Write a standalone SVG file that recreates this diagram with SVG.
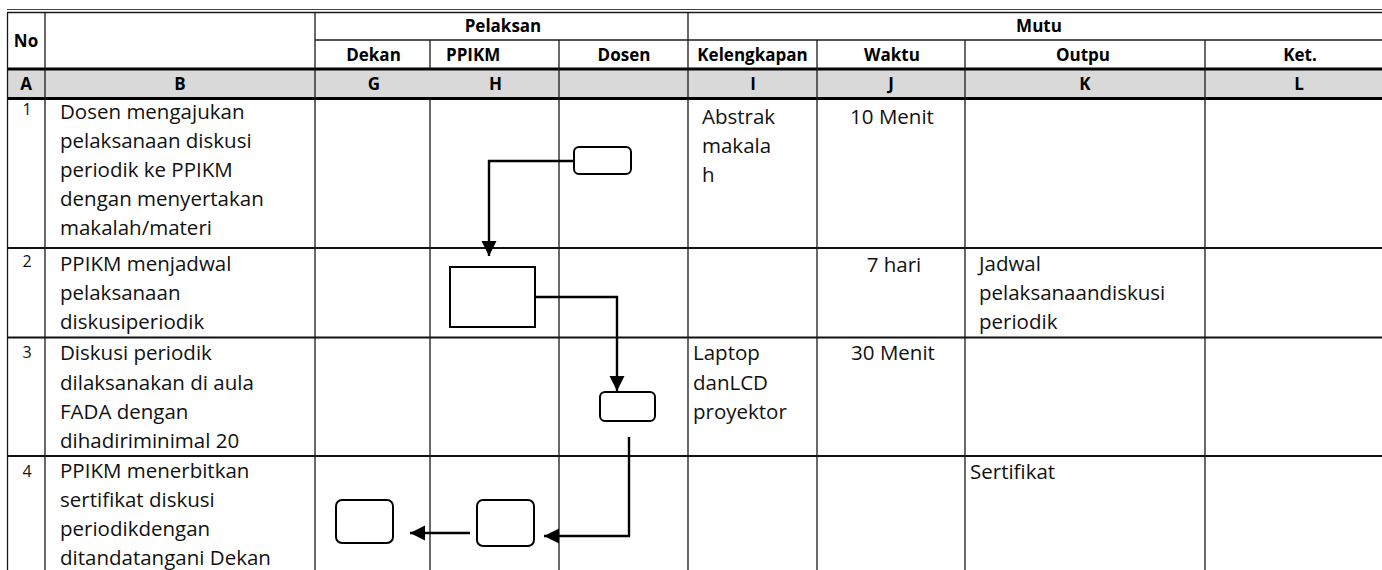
<svg xmlns="http://www.w3.org/2000/svg" width="1382" height="570" viewBox="0 0 1382 570">
<style>
.grid{stroke:#1a1a1a;stroke-width:1.3;fill:none}
.thick{stroke:#000;stroke-width:3;fill:none}
.rowl{stroke:#111;stroke-width:1.8;fill:none}
.hd{font-family:"Open Sans","Noto Sans",sans-serif;font-weight:bold;font-size:17px;fill:#000}
.tx{font-family:"Open Sans","Noto Sans",sans-serif;font-size:20.5px;fill:#111}
.num{font-family:"Open Sans","Noto Sans",sans-serif;font-size:16px;fill:#111}
.mid{text-anchor:middle}
.box{fill:#fff;stroke:#000;stroke-width:2}
.conn{fill:none;stroke:#000;stroke-width:2.4}
</style>
<defs>
<marker id="ah" markerUnits="userSpaceOnUse" markerWidth="16" markerHeight="16" refX="15" refY="7.5" orient="auto">
<path d="M0,0 L15,7.5 L0,15 z" fill="#000"/>
</marker>
</defs>
<rect x="0" y="0" width="1382" height="570" fill="#fff"/>
<g id="table">
<rect x="7.5" y="70" width="1374.5" height="28" fill="#d9d9d9"/>
<line class="grid" x1="7" y1="9.5" x2="1382" y2="9.5" style="stroke:#444;stroke-width:1"/>
<line class="grid" x1="7" y1="12.5" x2="1382" y2="12.5" style="stroke-width:1.5"/>
<line class="grid" x1="315" y1="40" x2="1382" y2="40"/>
<line class="thick" x1="7.5" y1="69" x2="1382" y2="69"/>
<line class="thick" x1="7.5" y1="98.5" x2="1382" y2="98.5"/>
<line class="rowl" x1="7.5" y1="248" x2="1382" y2="248"/>
<line class="rowl" x1="7.5" y1="337.5" x2="1382" y2="337.5"/>
<line class="rowl" x1="7.5" y1="456" x2="1382" y2="456"/>
<line class="grid" x1="7.5" y1="12.5" x2="7.5" y2="570"/>
<line class="grid" x1="45" y1="12.5" x2="45" y2="570"/>
<line class="grid" x1="315" y1="12.5" x2="315" y2="570"/>
<line class="grid" x1="430" y1="40" x2="430" y2="69"/>
<line class="grid" x1="430" y1="98.5" x2="430" y2="570"/>
<line class="grid" x1="559" y1="40" x2="559" y2="570"/>
<line class="grid" x1="688" y1="12.5" x2="688" y2="570"/>
<line class="grid" x1="817" y1="40" x2="817" y2="570"/>
<line class="grid" x1="965" y1="40" x2="965" y2="570"/>
<line class="grid" x1="1205" y1="40" x2="1205" y2="570"/>
</g>
<g id="header">
<text class="hd mid" x="26" y="47">No</text>
<text class="hd mid" x="503" y="32">Pelaksan</text>
<text class="hd mid" x="1039" y="32">Mutu</text>
<text class="hd mid" x="373.5" y="61">Dekan</text>
<text class="hd" x="446" y="61">PPIKM</text>
<text class="hd mid" x="624" y="61">Dosen</text>
<text class="hd mid" x="752.5" y="61">Kelengkapan</text>
<text class="hd mid" x="892" y="61">Waktu</text>
<text class="hd mid" x="1083" y="61">Outpu</text>
<text class="hd mid" x="1300" y="61">Ket.</text>
<text class="hd mid" x="26" y="90">A</text>
<text class="hd mid" x="180" y="90">B</text>
<text class="hd mid" x="374" y="90">G</text>
<text class="hd mid" x="495.5" y="90">H</text>
<text class="hd mid" x="753" y="90">I</text>
<text class="hd mid" x="891" y="90">J</text>
<text class="hd mid" x="1085" y="90">K</text>
<text class="hd mid" x="1299" y="90">L</text>
</g>
<g id="row1">
<text class="num mid" x="27" y="115">1</text>
<text class="tx" x="60" y="119">Dosen mengajukan</text>
<text class="tx" x="60" y="148">pelaksanaan diskusi</text>
<text class="tx" x="60" y="177">periodik ke PPIKM</text>
<text class="tx" x="60" y="206">dengan menyertakan</text>
<text class="tx" x="60" y="235">makalah/materi</text>
<text class="tx" x="702" y="124">Abstrak</text>
<text class="tx" x="702" y="153">makala</text>
<text class="tx" x="702" y="182">h</text>
<text class="tx mid" x="892" y="124">10 Menit</text>
</g>
<g id="row2">
<text class="num mid" x="27" y="267">2</text>
<text class="tx" x="60" y="271">PPIKM menjadwal</text>
<text class="tx" x="60" y="300">pelaksanaan</text>
<text class="tx" x="60" y="329">diskusiperiodik</text>
<text class="tx mid" x="894" y="272">7 hari</text>
<text class="tx" x="979" y="271">Jadwal</text>
<text class="tx" x="979" y="300">pelaksanaandiskusi</text>
<text class="tx" x="979" y="329">periodik</text>
</g>
<g id="row3">
<text class="num mid" x="27" y="358">3</text>
<text class="tx" x="60" y="360">Diskusi periodik</text>
<text class="tx" x="60" y="390">dilaksanakan di aula</text>
<text class="tx" x="60" y="419">FADA dengan</text>
<text class="tx" x="60" y="448">dihadiriminimal 20</text>
<text class="tx" x="693" y="360">Laptop</text>
<text class="tx" x="693" y="390">danLCD</text>
<text class="tx" x="693" y="419">proyektor</text>
<text class="tx mid" x="893" y="360">30 Menit</text>
</g>
<g id="row4">
<text class="num mid" x="27" y="477">4</text>
<text class="tx" x="60" y="478">PPIKM menerbitkan</text>
<text class="tx" x="60" y="507">sertifikat diskusi</text>
<text class="tx" x="60" y="536">periodikdengan</text>
<text class="tx" x="60" y="565">ditandatangani Dekan</text>
<text class="tx" x="970" y="479">Sertifikat</text>
</g>
<g id="connectors">
<polyline class="conn" points="574,161 489,161 489,256" marker-end="url(#ah)"/>
<polyline class="conn" points="535,297 617,297 617,391" marker-end="url(#ah)"/>
<polyline class="conn" points="629,437 629,536 544,536" marker-end="url(#ah)"/>
<line class="conn" x1="470" y1="533" x2="410" y2="533" marker-end="url(#ah)"/>
</g>
<g id="n1"><rect class="box" x="574" y="147" width="57" height="27" rx="5"/></g>
<g id="n2"><rect class="box" x="450" y="267" width="85" height="60"/></g>
<g id="n3"><rect class="box" x="600" y="392" width="55" height="29" rx="5"/></g>
<g id="n4"><rect class="box" x="477" y="500" width="57" height="46" rx="6"/></g>
<g id="n5"><rect class="box" x="336" y="500" width="57" height="43" rx="6"/></g>
</svg>
